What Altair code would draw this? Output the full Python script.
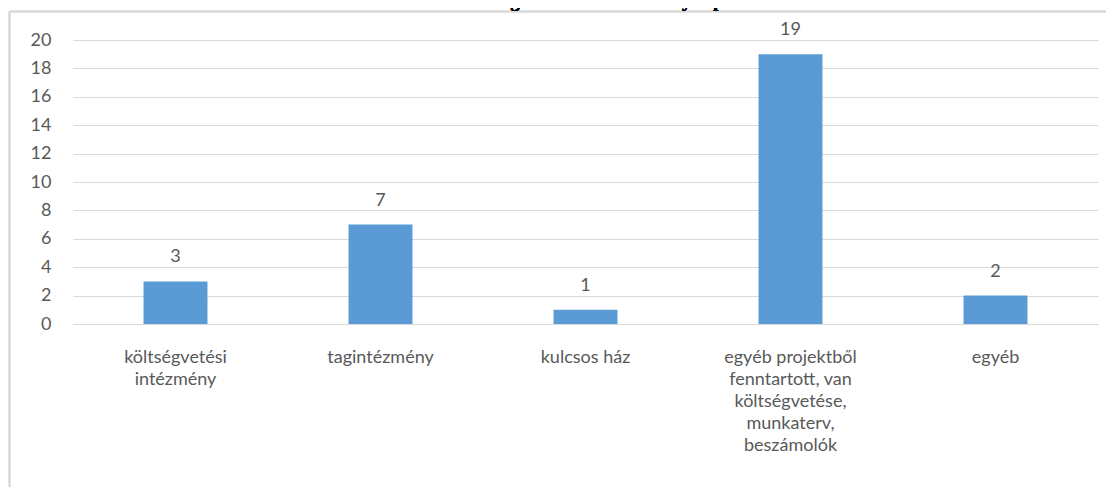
import altair as alt
import pandas as pd

categories = [
    "költségvetési|intézmény",
    "tagintézmény",
    "kulcsos ház",
    "egyéb projektből|fenntartott, van|költségvetése,|munkaterv,|beszámolók",
    "egyéb",
]
values = [3, 7, 1, 19, 2]
y_ticks = list(range(0, 21, 2))
title_text = "Közösségi színterek intézményi típusa"

df = pd.DataFrame({"cat": categories, "val": values})

FONT = "Lato"
GRAY = "#595959"
W, H = 1025, 284

x_enc = alt.X(
    "cat:N",
    sort=categories,
    scale=alt.Scale(paddingInner=0.688, paddingOuter=0.344),
    axis=alt.Axis(
        title=None,
        labelExpr="split(datum.label, '|')",
        labelAngle=0,
        labelFont=FONT,
        labelFontSize=18,
        labelColor=GRAY,
        labelLineHeight=22,
        labelPadding=33,
        labelBaseline="middle",
        ticks=False,
        domain=True,
        domainColor="#d9d9d9",
        domainWidth=1,
        grid=False,
        labelLimit=400,
    ),
)

y_enc = alt.Y(
    "val:Q",
    scale=alt.Scale(domain=[0, 20], nice=False),
    axis=alt.Axis(
        title=None,
        values=y_ticks,
        labelOverlap=False,
        labelFont=FONT,
        labelFontSize=18,
        labelColor=GRAY,
        labelPadding=22,
        ticks=False,
        domain=False,
        grid=True,
        gridColor="#d9d9d9",
        gridWidth=1,
    ),
)

base = alt.Chart(df).encode(x=x_enc, y=y_enc)
bars = base.mark_bar(color="#5b9bd5")
labels = base.mark_text(
    font=FONT, fontSize=18, color=GRAY, baseline="middle", dy=-24
).encode(text="val:Q")

frame_left = alt.Chart(df).mark_rule(color="#d9d9d9", strokeWidth=1.5).encode(
    x=alt.value(-63.5), y=alt.value(-28.5), y2=alt.value(H + 200)
)
frame_top = alt.Chart(df).mark_rule(color="#d9d9d9", strokeWidth=1.5).encode(
    x=alt.value(-63.5), x2=alt.value(W + 100), y=alt.value(-28.5)
)
title = alt.Chart(df).mark_text(
    font="Liberation Serif", fontSize=19, fontWeight="bold", color="#000000",
    baseline="alphabetic", align="center"
).encode(x=alt.value(525), y=alt.value(-33), text=alt.value(title_text))

chart = alt.layer(bars, labels, frame_left, frame_top, title).properties(
    width=W,
    height=H,
    autosize=alt.AutoSizeParams(type="none"),
    padding={"left": 65, "top": 32, "right": 8, "bottom": 163},
).configure_view(stroke=None)

chart.save("out.html", embed_options={"renderer": "svg", "actions": False})
